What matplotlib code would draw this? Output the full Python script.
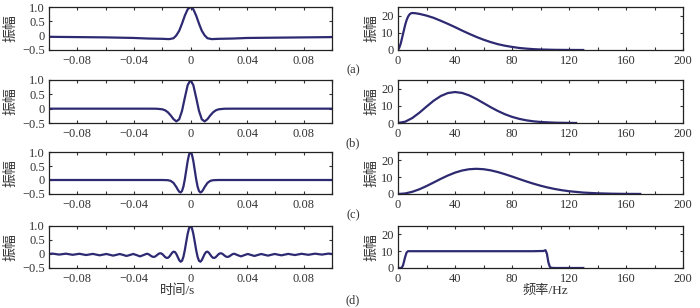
import matplotlib
matplotlib.use("Agg")
import matplotlib.pyplot as plt

plt.rcParams['font.family'] = ['Liberation Serif', 'Noto Sans CJK SC']
plt.rcParams['axes.unicode_minus'] = True

# ---- time-domain wavelets (s, amplitude) ----
t_a = [-0.1, -0.08, -0.06, -0.04, -0.03, -0.02, -0.015, -0.012, -0.010, -0.008,
       -0.006, -0.004, -0.002, 0.0, 0.002, 0.004, 0.006, 0.008, 0.010, 0.012,
       0.015, 0.02, 0.03, 0.04, 0.06, 0.08, 0.1]
amp_a = [-0.04, -0.05, -0.06, -0.08, -0.10, -0.11, -0.12, -0.09, 0.01, 0.17,
         0.42, 0.70, 0.92, 1.0, 0.92, 0.70, 0.42, 0.17, 0.01, -0.09,
         -0.12, -0.11, -0.10, -0.08, -0.07, -0.06, -0.05]

t_b = [-0.1, -0.03, -0.024, -0.02, -0.018, -0.016, -0.014, -0.012, -0.010, -0.008,
       -0.006, -0.004, -0.002, 0.0, 0.002, 0.004, 0.006, 0.008, 0.010, 0.012,
       0.014, 0.016, 0.018, 0.02, 0.024, 0.03, 0.1]
amp_b = [0.0, 0.0, -0.002, -0.021, -0.055, -0.125, -0.235, -0.365, -0.445, -0.372,
         -0.078, 0.384, 0.820, 1.0, 0.820, 0.384, -0.078, -0.372, -0.445, -0.365,
         -0.235, -0.125, -0.055, -0.021, -0.002, 0.0, 0.0]

t_c = [-0.1, -0.02, -0.016, -0.014, -0.012, -0.010, -0.009, -0.008, -0.007, -0.006,
       -0.005, -0.004, -0.003, -0.002, -0.001, 0.0, 0.001, 0.002, 0.003, 0.004,
       0.005, 0.006, 0.007, 0.008, 0.009, 0.010, 0.012, 0.014, 0.016, 0.02, 0.1]
amp_c = [0.0, 0.0, -0.007, -0.031, -0.103, -0.251, -0.342, -0.417, -0.446, -0.393,
         -0.234, 0.028, 0.354, 0.676, 0.913, 1.0, 0.913, 0.676, 0.354, 0.028,
         -0.234, -0.393, -0.446, -0.417, -0.342, -0.251, -0.103, -0.031, -0.007, 0.0, 0.0]

t_d = [-0.1, -0.09762, -0.09524, -0.09286, -0.09048, -0.0881, -0.08571, -0.08333,
       -0.08095, -0.07857, -0.07619, -0.07381, -0.07143, -0.06905, -0.06667, -0.06429,
       -0.0619, -0.05952, -0.05714, -0.05476, -0.05238, -0.05, -0.04762, -0.04524,
       -0.04286, -0.04048, -0.0381, -0.03571, -0.03333, -0.03095,
       -0.030, -0.029, -0.028, -0.027, -0.026, -0.025, -0.024, -0.023, -0.022, -0.021,
       -0.020, -0.019, -0.018, -0.017, -0.016, -0.015, -0.014, -0.013, -0.012, -0.011,
       -0.010, -0.009, -0.008, -0.007, -0.006, -0.005, -0.004, -0.003, -0.002, -0.001,
       0.0,
       0.001, 0.002, 0.003, 0.004, 0.005, 0.006, 0.007, 0.008, 0.009, 0.010,
       0.011, 0.012, 0.013, 0.014, 0.015, 0.016, 0.017, 0.018, 0.019, 0.020,
       0.021, 0.022, 0.023, 0.024, 0.025, 0.026, 0.027, 0.028, 0.029, 0.030,
       0.03095, 0.03333, 0.03571, 0.0381, 0.04048, 0.04286, 0.04524, 0.04762,
       0.05, 0.05238, 0.05476, 0.05714, 0.05952, 0.0619, 0.06429, 0.06667,
       0.06905, 0.07143, 0.07381, 0.07619, 0.07857, 0.08095, 0.08333, 0.08571,
       0.0881, 0.09048, 0.09286, 0.09524, 0.09762, 0.1]
amp_d = [0.0, 0.015, -0.003, -0.021, -0.005, 0.012, -0.008, -0.029,
         -0.011, 0.008, -0.014, -0.037, -0.017, 0.004, -0.021, -0.047,
         -0.024, 0.001, -0.027, -0.058, -0.030, 0.0, -0.033, -0.070,
         -0.036, 0.002, -0.039, -0.085, -0.041, 0.009,
         0.0, -0.028, -0.065, -0.095, -0.105, -0.090, -0.054, -0.011, 0.021, 0.026,
         0.0, -0.050, -0.104, -0.139, -0.138, -0.096, -0.027, 0.043, 0.084, 0.071,
         0.0, -0.109, -0.217, -0.276, -0.243, -0.100, 0.142, 0.437, 0.721, 0.926,
         1.0,
         0.926, 0.721, 0.437, 0.142, -0.100, -0.243, -0.276, -0.217, -0.109, 0.0,
         0.071, 0.084, 0.043, -0.027, -0.096, -0.138, -0.139, -0.104, -0.050, 0.0,
         0.026, 0.021, -0.011, -0.054, -0.090, -0.105, -0.095, -0.065, -0.028, 0.0,
         0.009, -0.041, -0.085, -0.039, 0.002, -0.036, -0.070, -0.033,
         0.0, -0.030, -0.058, -0.027, 0.001, -0.024, -0.047, -0.021,
         0.004, -0.017, -0.037, -0.014, 0.008, -0.011, -0.029, -0.008,
         0.012, -0.005, -0.021, -0.003, 0.015, 0.0]

# ---- amplitude spectra (Hz, amplitude) ----
f_a = [0, 1, 2, 3, 4, 5, 6, 7, 8, 9, 10, 12, 15, 20, 25, 30, 35, 40, 45, 50,
       55, 60, 65, 70, 75, 80, 85, 90, 95, 100, 110, 120, 130]
spec_a = [0, 1.5, 4, 7.5, 11, 14.5, 17.3, 19.3, 20.6, 21.3, 21.5, 21.4, 21.0, 20.0,
          18.7, 17.0, 15.2, 13.3, 11.3, 9.4, 7.6, 6.0, 4.6, 3.4, 2.5, 1.8, 1.2,
          0.8, 0.5, 0.3, 0.1, 0.03, 0]

f_b = [0, 5, 10, 15, 20, 25, 30, 35, 40, 45, 50, 55, 60, 65, 70, 75, 80, 85, 90,
       95, 100, 110, 120, 125]
spec_b = [0, 0.75, 2.87, 5.98, 9.53, 12.93, 15.68, 17.42, 18.0, 17.47, 16.03, 13.97,
          11.60, 9.21, 7.01, 5.11, 3.58, 2.42, 1.57, 0.98, 0.59, 0.19, 0.05, 0.02]

f_c = [0, 5, 10, 15, 20, 25, 30, 35, 40, 45, 50, 55, 60, 65, 70, 75, 80, 85, 90,
       95, 100, 105, 110, 115, 120, 130, 140, 150, 160, 170]
spec_c = [0, 0.33, 1.30, 2.82, 4.72, 6.85, 9.01, 11.01, 12.71, 13.98, 14.75, 15.0,
          14.76, 14.09, 13.07, 11.81, 10.40, 8.94, 7.50, 6.16, 4.94, 3.88, 2.99,
          2.25, 1.66, 0.85, 0.41, 0.18, 0.07, 0.03]

f_d = [0, 2.5, 3.5, 5, 6, 7, 8, 20, 40, 60, 80, 95, 100, 102, 103.5, 104.5, 105.5,
       106.5, 107.5, 110, 130]
spec_d = [0, 0, 1.5, 6.5, 9.2, 10, 10, 10, 10, 10, 10, 10, 10.1, 10.1, 10.6, 8.5,
          3.5, 0.8, 0.1, 0, 0]

time_series = [(t_a, amp_a), (t_b, amp_b), (t_c, amp_c), (t_d, amp_d)]
spec_series = [(f_a, spec_a), (f_b, spec_b), (f_c, spec_c), (f_d, spec_d)]
panel_tags = ['(a)', '(b)', '(c)', '(d)']

t_ticks = [-0.1, -0.08, -0.06, -0.04, -0.02, 0, 0.02, 0.04, 0.06, 0.08, 0.1]
t_labels = ['', '\u22120.08', '', '\u22120.04', '', '0', '', '0.04', '', '0.08', '']
f_ticks = [0, 20, 40, 60, 80, 100, 120, 140, 160, 180, 200]
f_labels = ['0', '', '40', '', '80', '', '120', '', '160', '', '200']

line_color = '#2e2a72'
text_color = '#333333'
W, H = 700, 308

fig = plt.figure(figsize=(7, 3.08), dpi=100)

rows = [(7, 50), (80, 123), (152, 194), (226, 268)]   # pixel top/bottom
tag_y = [70, 143, 215, 300]


def style(ax):
    ax.tick_params(direction='in', top=True, right=True, length=2.5, width=0.8,
                   labelsize=9, colors=text_color, pad=3)
    ax.tick_params(axis='x', pad=3.5)
    for s in ax.spines.values():
        s.set_linewidth(0.9)
        s.set_color('#222222')


for i in range(4):
    top, bot = rows[i]
    ax1 = fig.add_axes([49 / W, 1 - bot / H, 283 / W, (bot - top) / H])
    t, a = time_series[i]
    ax1.plot(t, a, color=line_color, lw=1.6)
    ax1.set_xlim(-0.1, 0.1)
    ax1.set_ylim(-0.5, 1.0)
    ax1.set_xticks(t_ticks)
    ax1.set_xticklabels(t_labels)
    ax1.set_yticks([-0.5, 0, 0.5, 1.0])
    ax1.set_yticklabels(['\u22120.5', '0', '0.5', '1.0'])
    style(ax1)

    ax2 = fig.add_axes([398 / W, 1 - bot / H, 285 / W, (bot - top) / H])
    f, s = spec_series[i]
    ax2.plot(f, s, color=line_color, lw=1.6)
    ax2.set_xlim(0, 200)
    ax2.set_ylim(0, 25)
    ax2.set_xticks(f_ticks)
    ax2.set_xticklabels(f_labels)
    ax2.set_yticks([0, 10, 20])
    style(ax2)

    ymid = 1 - (top + bot) / 2 / H
    fig.text(11 / W, ymid, '振幅', rotation=90, ha='center', va='center',
             fontsize=10, color=text_color)
    fig.text(372 / W, ymid, '振幅', rotation=90, ha='center', va='center',
             fontsize=10, color=text_color)
    fig.text(353 / W, 1 - tag_y[i] / H, panel_tags[i], ha='center', va='center',
             fontsize=9, color=text_color)

fig.text(178 / W, 1 - 291 / H, '时间/s', ha='center', va='center',
         fontsize=9.5, color=text_color)
fig.text(545 / W, 1 - 291 / H, '频率/Hz', ha='center', va='center',
         fontsize=9.5, color=text_color)

fig.savefig('out.png', dpi=100)
